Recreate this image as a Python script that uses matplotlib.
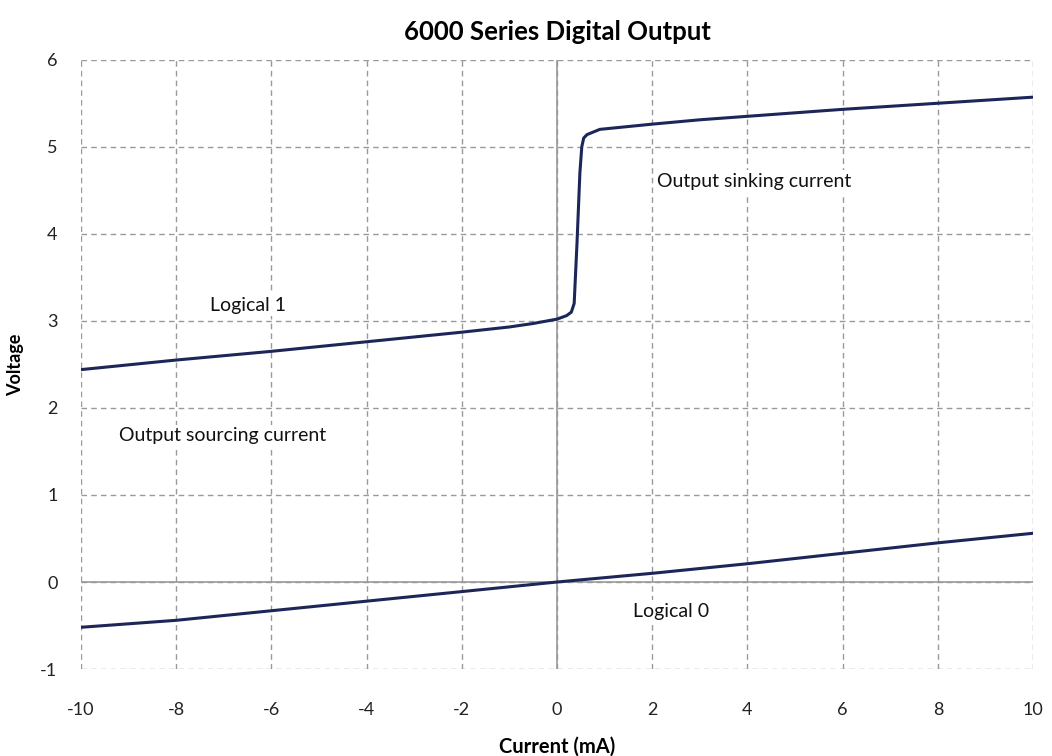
""" 6000 series digital output: voltage vs current for logical 1 and 0 """

from matplotlib import pyplot as plt

# logical 1 (output high)
high_current = [-10, -8, -6, -4, -2, -1, -0.5, 0, 0.2, 0.3, 0.36, 0.42, 0.48, 0.52, 0.56, 0.63, 0.9, 2, 3, 4, 6, 8, 10]
high_voltage = [2.44, 2.55, 2.65, 2.76, 2.87, 2.93, 2.97, 3.02, 3.06, 3.1, 3.2, 3.9, 4.7, 5.0, 5.1, 5.14, 5.2, 5.26, 5.31, 5.35, 5.43, 5.5, 5.57]

# logical 0 (output low)
low_current = [-10, -8, -6, -4, -2, 0, 2, 4, 6, 8, 10]
low_voltage = [-0.52, -0.44, -0.33, -0.22, -0.11, 0.0, 0.1, 0.21, 0.33, 0.45, 0.56]

# annotations (label, x, y)
labels = [
	("Logical 1", -7.3, 3.18),
	("Output sourcing current", -9.2, 1.68),
	("Output sinking current", 2.1, 4.6),
	("Logical 0", 1.6, -0.34),
]

plt.rcParams["font.family"] = ["Lato", "DejaVu Sans"]
plt.rcParams["axes.unicode_minus"] = False

fig = plt.figure(figsize=(10.52, 7.56), dpi=100)
ax = fig.add_axes((0.077, 0.115, 0.905, 0.806))

ax.set_xlim(-10, 10)
ax.set_ylim(-1, 6)
ax.set_xticks(range(-10, 11, 2))
ax.set_yticks(range(-1, 7))
for spine in ax.spines.values():
	spine.set_visible(False)
ax.grid(True, color="#999999", linestyle=(0, (4, 3)), linewidth=1)
ax.tick_params(length=0, labelsize=13, colors="#222222")
ax.tick_params(axis="x", pad=24)
ax.tick_params(axis="y", pad=17)
ax.axhline(0, color="#999999", linewidth=1.2)
ax.axvline(0, color="#999999", linewidth=1.2)

ax.plot(high_current, high_voltage, color="#1c2659", linewidth=2.2)
ax.plot(low_current, low_voltage, color="#1c2659", linewidth=2.2)

for text, x, y in labels:
	ax.text(x, y, text, fontsize=14, ha="left", va="center", color="#111111",
		bbox=dict(facecolor="white", edgecolor="none", pad=2))

ax.set_title("6000 Series Digital Output", fontsize=18.5, fontweight="bold", pad=14)
ax.set_xlabel("Current (mA)", fontsize=14.5, fontweight="bold", labelpad=13)
ax.set_ylabel("Voltage", fontsize=13, fontweight="bold", labelpad=12)

fig.savefig("out.png", dpi=100)
